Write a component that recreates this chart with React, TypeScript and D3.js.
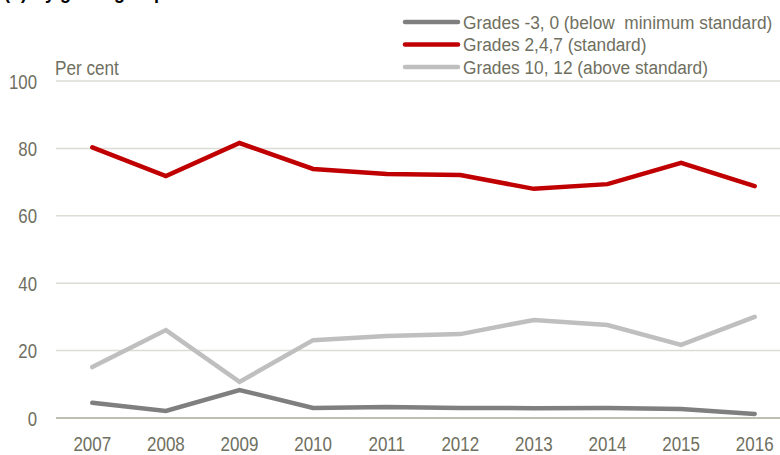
import React, { useEffect, useRef } from "react";
import * as d3 from "d3";

const years = ["2007", "2008", "2009", "2010", "2011", "2012", "2013", "2014", "2015", "2016"];
const belowMin = [4.5, 2.1, 8.3, 3.0, 3.3, 3.0, 2.9, 3.0, 2.7, 1.2];
const standard = [80.3, 71.8, 81.6, 73.9, 72.4, 72.1, 68.0, 69.4, 75.7, 68.8];
const aboveStd = [15.1, 26.1, 10.7, 23.1, 24.3, 24.9, 29.1, 27.6, 21.7, 30.0];
const yTicks = [0, 20, 40, 60, 80, 100];
const seriesNames = [
  "Grades -3, 0 (below  minimum standard)",
  "Grades 2,4,7 (standard)",
  "Grades 10, 12 (above standard)",
];
const seriesColors = ["#7f7f7f", "#c00000", "#bfbfbf"];

const W = 780;
const H = 455;
const FONT = "'Liberation Sans', Arial, sans-serif";
const TEXT = "#6f6f60";

export default function App() {
  const ref = useRef<SVGSVGElement>(null);

  useEffect(() => {
    const svg = d3.select(ref.current);
    svg.selectAll("*").remove();

    const x = d3.scaleBand<string>().domain(years).range([55.5, 791.5]);
    const y = d3.scaleLinear().domain([0, 100]).range([418, 81]);
    const cx = (d: string) => (x(d) as number) + x.bandwidth() / 2;

    const narrowText = (
      parent: d3.Selection<any, any, any, any>,
      tx: number,
      ty: number,
      txt: string,
      size: number,
      sx: number,
      anchor: string,
      fill = TEXT,
      weight = "normal"
    ) => {
      parent.append("g")
        .attr("transform", `translate(${tx},${ty}) scale(${sx},1)`)
        .append("text")
        .attr("x", 0).attr("y", 0)
        .attr("text-anchor", anchor)
        .attr("font-family", FONT)
        .attr("font-size", size)
        .attr("font-weight", weight)
        .attr("fill", fill)
        .style("white-space", "pre")
        .text(txt);
    };

    // cropped title (only its descenders show in the frame)
    narrowText(svg, 4, -1, "(b) By grade group", 20, 0.9, "start", "#000", "bold");

    // gridlines
    svg.append("g").selectAll("line").data(yTicks).join("line")
      .attr("x1", 56).attr("x2", W)
      .attr("y1", (d) => y(d)).attr("y2", (d) => y(d))
      .attr("stroke", (d) => (d === 0 ? "#a8a898" : "#dcdcd4"))
      .attr("stroke-width", 1.5);

    // y labels
    const yg = svg.append("g");
    yTicks.forEach((d) => narrowText(yg, 37, y(d) + 7.5, String(d), 21, 0.8, "end"));

    narrowText(svg, 55, 75, "Per cent", 19.5, 0.88, "start");

    // x labels
    const xg = svg.append("g");
    years.forEach((d) => narrowText(xg, cx(d), 451, d, 21, 0.81, "middle"));

    const line = d3.line<number>()
      .x((_, i) => cx(years[i]))
      .y((d) => y(d));

    const series = [belowMin, standard, aboveStd];
    series.forEach((s, i) => {
      svg.append("path")
        .datum(s)
        .attr("d", line)
        .attr("fill", "none")
        .attr("stroke", seriesColors[i])
        .attr("stroke-width", 4.5)
        .attr("stroke-linejoin", "miter")
        .attr("stroke-linecap", "round");
    });

    // legend
    const lg = svg.append("g");
    seriesNames.forEach((n, i) => {
      const ly = 22 + i * 22.5;
      lg.append("line")
        .attr("x1", 405).attr("x2", 458)
        .attr("y1", ly).attr("y2", ly)
        .attr("stroke", seriesColors[i])
        .attr("stroke-width", 4.5)
        .attr("stroke-linecap", "round");
      narrowText(lg, 463, ly + 6.5, n, 19, 0.91, "start");
    });
  }, []);

  return (
    <svg
      ref={ref}
      width={W}
      height={H}
      style={{ position: "absolute", left: 0, top: 0, background: "#fff" }}
    />
  );
}
